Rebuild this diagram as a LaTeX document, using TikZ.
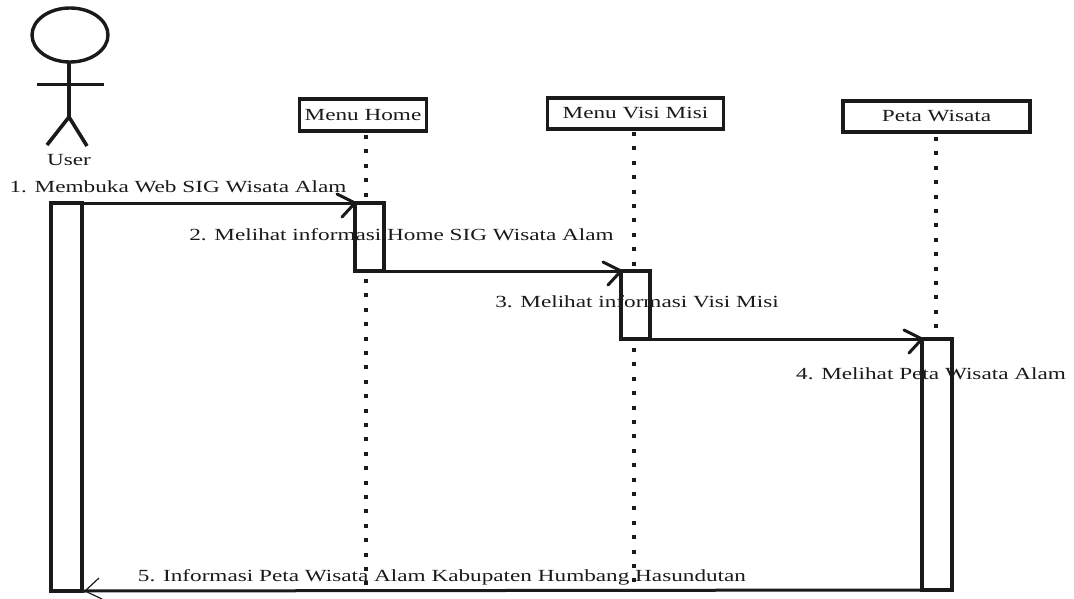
\documentclass[tikz,border=0pt]{standalone}
\usepackage{fontspec}
\usetikzlibrary{shapes.geometric}
\setmainfont{Liberation Serif}
\definecolor{ink}{HTML}{1A1A1A}
\newcommand{\wide}[1]{\scalebox{1.365}[1]{#1}}
\tikzset{
  x=1pt,y=-1pt,
  objbox/.style={draw=ink,line width=3.6pt,fill=white,inner sep=0pt,outer sep=0pt,align=center,font=\fontsize{17}{19}\selectfont,text=ink},
  actbox/.style={draw=ink,line width=3.6pt,fill=white,inner sep=0pt,outer sep=0pt},
  lbl/.style={inner sep=0pt,font=\fontsize{17}{19}\selectfont,text=ink},
  lifeline/.style={draw=ink,line width=4pt,dash pattern=on 4pt off 10.4pt},
  msg/.style={draw=ink,line width=3pt},
  barb/.style={draw=ink,line width=3pt,line cap=round},
  figure/.style={draw=ink,line width=3.6pt},
}
\begin{document}
\begin{tikzpicture}
\useasboundingbox (0,0) rectangle (1074,599);
% actor
\node[draw=ink,line width=3.4pt,shape=ellipse,minimum width=76pt,minimum height=54pt,inner sep=0pt,outer sep=0pt] (head) at (70,35) {};
\coordinate (neck) at (69,62);
\coordinate (hip) at (69,117);
\coordinate (armL) at (37,85);
\coordinate (armR) at (104,85);
\coordinate (legL) at (47,145);
\coordinate (legR) at (87,146);
\draw[figure] (neck) -- (hip);
\draw[figure,line width=3pt] (armL) -- (armR);
\draw[figure] (legL) -- (hip) -- (legR);
\node[lbl] (user) at (69,160) {\wide{User}};
% objects
\node[objbox,minimum width=127pt,minimum height=32pt] (home) at (363,115) {\wide{Menu Home}};
\node[objbox,minimum width=176pt,minimum height=31pt] (visi) at (635.5,113.5) {\wide{Menu Visi Misi}};
\node[objbox,minimum width=187pt,minimum height=31pt] (peta) at (936.5,116.5) {\wide{Peta Wisata}};
% lifeline ends
\coordinate (homeA) at (366,135);
\coordinate (homeB) at (366,590);
\coordinate (visiA) at (634,132);
\coordinate (visiB) at (634,590);
\coordinate (petaA) at (936,137);
\coordinate (petaB) at (936,336);
\draw[lifeline] (homeA) -- (homeB);
\draw[lifeline] (visiA) -- (visiB);
\draw[lifeline] (petaA) -- (petaB);
% activations
\node[actbox,minimum width=31pt,minimum height=388pt] (actU) at (66.5,397) {};
\node[actbox,minimum width=29pt,minimum height=68pt] (actH) at (369.5,237) {};
\node[actbox,minimum width=29pt,minimum height=68pt] (actV) at (635.5,305) {};
\node[actbox,minimum width=30pt,minimum height=251pt] (actP) at (937,464.5) {};
% messages
\draw[msg] (actU.north east) -- (actH.north west);
\draw[barb] ([shift={(-18,-9)}]actH.north west) -- (actH.north west) -- ([shift={(-13,14)}]actH.north west);
\draw[msg] (actH.south east) -- (actV.north west);
\draw[barb] ([shift={(-18,-9)}]actV.north west) -- (actV.north west) -- ([shift={(-13,14)}]actV.north west);
\draw[msg] (actV.south east) -- (actP.north west);
\draw[barb] ([shift={(-18,-9)}]actP.north west) -- (actP.north west) -- ([shift={(-13,14)}]actP.north west);
\draw[msg] (actP.south west) -- (actU.south east);
\draw[draw=ink,line width=1.2pt] ([shift={(17,-13)}]actU.south east) -- ([shift={(3,0)}]actU.south east) -- ([shift={(20,8)}]actU.south east);
% labels
\node[lbl] (m1) at (178,187) {\wide{1. Membuka Web SIG Wisata Alam}};
\node[lbl] (m2) at (401.5,235) {\wide{2. Melihat informasi Home SIG Wisata Alam}};
\node[lbl] (m3) at (637,302) {\wide{3. Melihat informasi Visi Misi}};
\node[lbl] (m4) at (931,374) {\wide{4. Melihat Peta Wisata Alam}};
\node[lbl] (m5) at (442,577) {\wide{5. Informasi Peta Wisata Alam Kabupaten Humbang Hasundutan}};
\end{tikzpicture}
\end{document}
